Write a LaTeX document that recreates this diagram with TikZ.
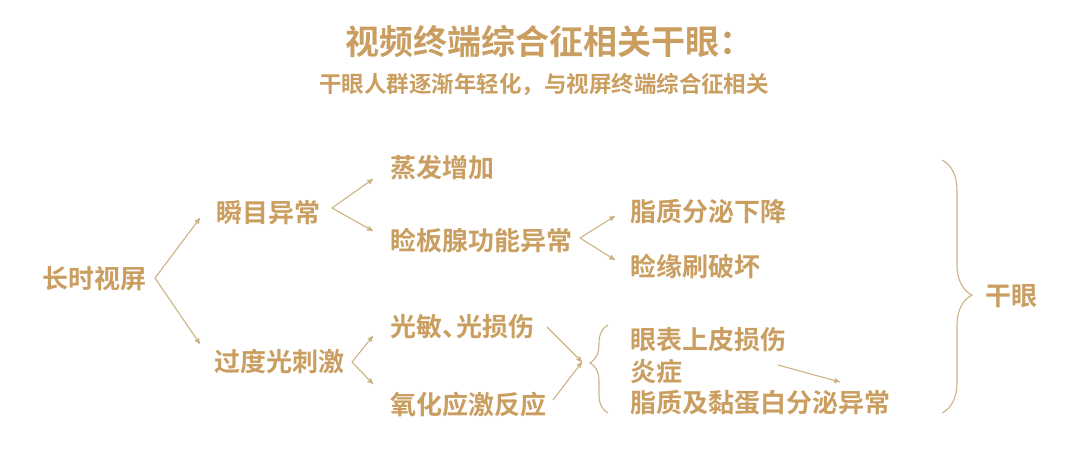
\documentclass[tikz,border=0pt]{standalone}
\usepackage{fontspec}
\newfontfamily\cjk{Noto Sans CJK SC}[BoldFont={Noto Sans CJK SC Bold}]
\usetikzlibrary{arrows, decorations.pathreplacing}
\definecolor{gold}{RGB}{201,158,96}
\definecolor{goldline}{RGB}{204,178,130}

\begin{document}
\begin{tikzpicture}[x=1pt,y=-1pt,->,>=stealth',line width=1.1pt,goldline,
  main node/.style={anchor=west,inner sep=0pt,text=gold,font=\cjk\bfseries\fontsize{26}{30}\selectfont},
  head node/.style={inner sep=0pt,text=gold,font=\cjk\bfseries\fontsize{34}{40}\selectfont},
  sub node/.style={inner sep=0pt,text=gold,font=\cjk\bfseries\fontsize{22.5}{27}\selectfont},
  brace/.style={-,decorate,decoration={brace,amplitude=#1}}]

    \useasboundingbox (0,0) rectangle (1080,462);

    \node[head node] (t) at (549,42) {视频终端综合征相关干眼：};
    \node[sub node] (s) at (544,84) {干眼人群逐渐年轻化，与视屏终端综合征相关};

	\node[main node] (1) at (42,279) {长时视屏};
    \node[main node] (2) at (216,213) {瞬目异常};
    \node[main node] (3) at (214,362) {过度光刺激};
    \node[main node] (4) at (390,168) {蒸发增加};
    \node[main node] (5) at (390,241) {睑板腺功能异常};
    \node[main node] (6) at (390,327) {光敏、\kern-0.45em光损伤};
    \node[main node] (7) at (390,405) {氧化应激反应};
    \node[main node] (8) at (630,212) {脂质分泌下降};
    \node[main node] (9) at (630,266) {睑缘刷破坏};
    \node[main node] (10) at (630,340) {眼表上皮损伤};
    \node[main node] (11) at (630,372) {炎症};
    \node[main node] (12) at (630,403) {脂质及黏蛋白分泌异常};
    \node[main node] (13) at (985,296) {干眼};

    \coordinate (a1) at (155,278);
    \coordinate (a2) at (332,208);
    \coordinate (a3) at (352,362);
    \coordinate (a4) at (580,238);
    \coordinate (a5) at (547,327);
    \coordinate (a6) at (553,400);
    \coordinate (a7) at (778,365);
    \coordinate (b1) at (200,218);
    \coordinate (b2) at (200,344);
    \coordinate (b3) at (373,179);
    \coordinate (b4) at (373,231);
    \coordinate (b5) at (373,336);
    \coordinate (b6) at (373,384);
    \coordinate (b7) at (615,216);
    \coordinate (b8) at (615,260);
    \coordinate (b9) at (582,362);
    \coordinate (b10) at (840,382);
    \coordinate (c1) at (608,413);
    \coordinate (c2) at (608,325);
    \coordinate (c3) at (942,160);
    \coordinate (c4) at (942,413);

    \path (a1) edge (b1);
    \path (a1) edge (b2);
    \path (a2) edge (b3);
    \path (a2) edge (b4);
    \path (a3) edge (b5);
    \path (a3) edge (b6);
    \path (a4) edge (b7);
    \path (a4) edge (b8);
    \path (a5) edge (b9);
    \path (a6) edge (b9);
    \path (a7) edge (b10);
    \draw[brace=18pt,decoration={aspect=0.57}] (c1) -- (c2);
    \draw[brace=30pt,decoration={aspect=0.534}] (c3) -- (c4);

\end{tikzpicture}
\end{document}
